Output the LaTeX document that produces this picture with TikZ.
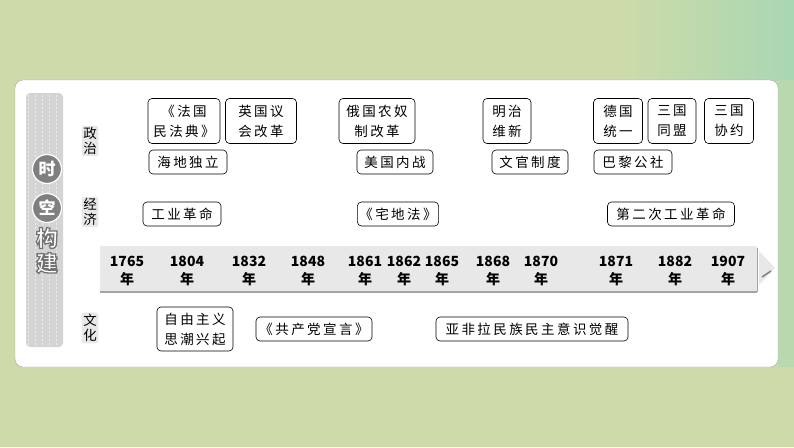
\documentclass[tikz,border=0pt]{standalone}
\usepackage{fontspec}
\usepackage{tikz}
\usetikzlibrary{positioning}
\newfontfamily\cjk[LetterSpace=18]{Noto Sans CJK SC}
\newfontfamily\cjkplain{Noto Sans CJK SC}
\definecolor{bgGreen}{HTML}{CEDBA9}
\definecolor{bgTeal}{HTML}{A9D6B3}
\definecolor{tabGray}{HTML}{D4D4D4}
\definecolor{bandGray}{HTML}{E8E8E8}
\definecolor{lineGray}{HTML}{A3A3A3}
\definecolor{darkGray}{HTML}{7F7F7F}
% outlined glyph: fill white, stroke gray
\newcommand{\outlined}[1]{\special{pdf:literal direct 2 Tr 1.3 w 0.45 0.45 0.45 RG}#1\special{pdf:literal direct 0 Tr}}
\tikzset{
  event/.style={rectangle, rounded corners=4pt, draw=black, line width=0.6pt, fill=white,
                align=center, inner xsep=2pt, inner ysep=2pt, minimum height=24pt,
                font=\cjk\fontsize{13.5}{20}\selectfont},
  event2/.style={event, minimum height=45pt},
  topic/.style={rectangle, rounded corners=2pt, fill=black!9, align=center, inner sep=1.5pt,
                font=\cjkplain\fontsize{13.5}{15}\selectfont},
  year/.style={align=center, inner sep=0pt, font=\cjkplain\bfseries\fontsize{14}{18}\selectfont},
  badge/.style={circle, fill=darkGray, draw=white, line width=1.2pt, minimum size=29pt,
                inner sep=0pt, text=white, font=\cjkplain\bfseries\fontsize{17}{17}\selectfont},
  glyph/.style={inner sep=0pt, text=white, font=\cjkplain\bfseries\fontsize{22}{22}\selectfont}
}

\begin{document}
\begin{tikzpicture}[x=1pt, y=-1pt]
% backdrop and panel
\fill[bgGreen] (0,0) rectangle (794,447);
\shade[left color=bgGreen, right color=bgTeal] (620,0) rectangle (794,80);
\fill[bgTeal!55!bgGreen] (778,80) rectangle (794,367);
\fill[white, draw=black!35, rounded corners=8pt] (15,80) rectangle (778,367);

% side tab
\fill[tabGray, rounded corners=4pt] (26,93) rectangle (63,347);
\draw[white!55!tabGray, line width=0.4pt, dash pattern=on 2pt off 2pt, step=7]
  (28,95) grid (61,345);
\node[badge] (shi) at (47,169) {时};
\node[badge] (kong) at (47,208) {空};
\node[glyph] (gou) at (47,238) {\outlined{构}};
\node[glyph] (jian) at (47,263) {\outlined{建}};

% topics
\node[topic] (politics) at (90,141) {政\\治};
\node[topic] (economy) at (90,212) {经\\济};
\node[topic] (culture) at (90,328) {文\\化};

% timeline band
\fill[bandGray] (100,246) rectangle (757,292);
\draw[lineGray, line width=2pt] (100,292) -- (757,292);
\draw[lineGray, line width=1pt] (757,248) -- (757,292);
\fill[bandGray] (759,251) -- (775,268) -- (759,285) -- cycle;
\draw[darkGray, line width=1.5pt] (762,277) -- (771,271);
\foreach \yr/\x in {1765/127,1804/187,1832/249,1848/308,1861/365,1862/404,
                    1865/442,1868/493,1870/541,1871/616,1882/675,1907/728}{
  \node[year] (y\yr) at (\x,271) {\yr\\年};
}

% politics
\node[event2, minimum width=72pt] (civilcode) at (184,121) {《法国\\民法典》};
\node[event2, minimum width=71pt] (reformact) at (261,121) {英国议\\会改革};
\node[event2, minimum width=76pt] (serfdom) at (377,121) {俄国农奴\\制改革};
\node[event2, minimum width=48pt] (meiji) at (507,121) {明治\\维新};
\node[event2, minimum width=49pt] (germany) at (618,121) {德国\\统一};
\node[event2, minimum width=48pt] (alliance) at (672,121) {三国\\同盟};
\node[event2, minimum width=49pt] (entente) at (729,121) {三国\\协约};
\node[event, minimum width=78pt] (haiti) at (188,162) {海地独立};
\node[event, minimum width=76pt] (civilwar) at (395,162) {美国内战};
\node[event, minimum width=76pt] (service) at (530,162) {文官制度};
\node[event, minimum width=78pt] (commune) at (633,162) {巴黎公社};

% economy
\node[event, minimum width=78pt] (industry) at (182,214) {工业革命};
\node[event, minimum width=80pt] (homestead) at (398,214) {《宅地法》};
\node[event, minimum width=127pt] (second) at (671,214) {第二次工业革命};

% culture
\node[event2, minimum width=76pt, minimum height=44pt] (liberal) at (195,329) {自由主义\\思潮兴起};
\node[event, minimum width=116pt] (manifesto) at (314,329) {《共产党宣言》};
\node[event, minimum width=192pt] (awakening) at (532,329) {亚非拉民族民主意识觉醒};
\end{tikzpicture}
\end{document}
